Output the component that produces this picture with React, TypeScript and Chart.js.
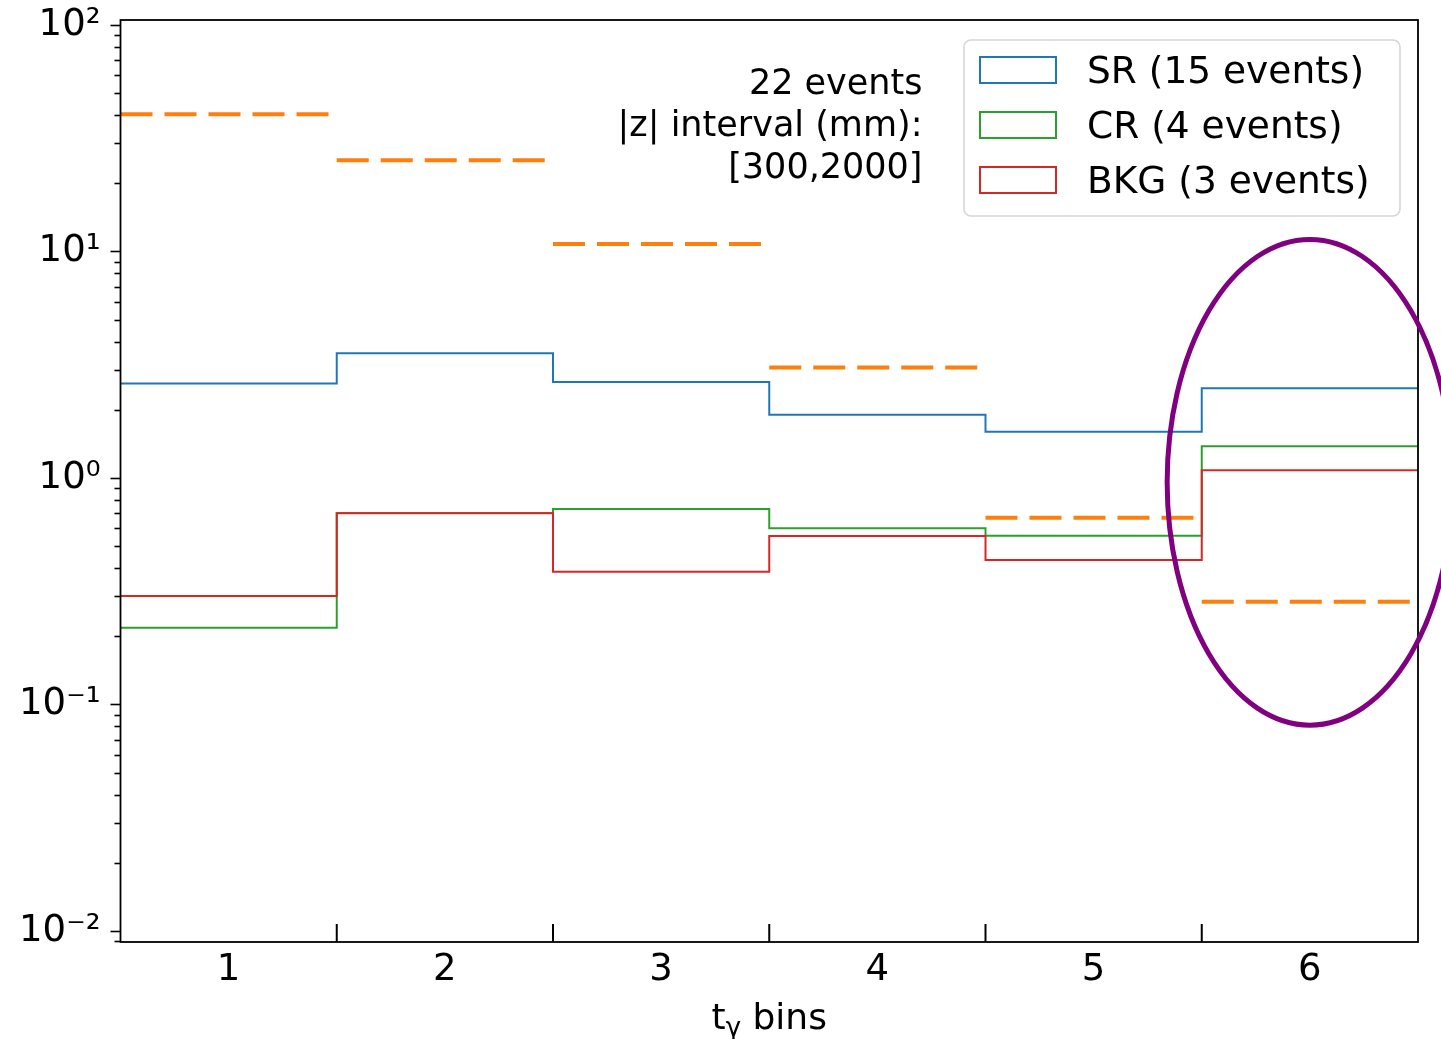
import React, { useEffect, useRef } from "react";
import { Chart, registerables } from "chart.js";

Chart.register(...registerables);

// ---- data ----
const binCenters = [1, 2, 3, 4, 5, 6];
const xTickLabels = ["1", "2", "3", "4", "5", "6"];
const srValues = [2.61, 3.55, 2.65, 1.9, 1.6, 2.49];
const crValues = [0.218, 0.7, 0.729, 0.6, 0.556, 1.38];
const bkgValues = [0.301, 0.698, 0.385, 0.554, 0.434, 1.08];
const expectedValues = [40.4, 25.3, 10.8, 3.07, 0.667, 0.284];
const seriesLabels = ["SR (15 events)", "CR (4 events)", "BKG (3 events)"];
const seriesColors = ["#1f77b4", "#2ca02c", "#d62728"];
const expectedColor = "#ff7f0e";
const annotationLines = ["22 events", "|z| interval (mm):", "[300,2000]"];
const yDecades = [-2, -1, 0, 1, 2];
const yTickLabels = ["10⁻²", "10⁻¹", "10⁰", "10¹", "10²"];
const xTitleMain = "t";
const xTitleSub = "γ";
const xTitleRest = " bins";
const yMin = Math.pow(10, -2.049);
const yMax = Math.pow(10, 2.022);
const ellipseBin = 6;
const ellipseHalfWidth = 0.66;
const ellipseTop = 11.3;
const ellipseBottom = 0.081;

const FONT = "'DejaVu Sans', sans-serif";

function stepPoints(vals: number[]) {
  const pts = vals.map((v, i) => ({ x: binCenters[i] - 0.5, y: v }));
  const last = vals.length - 1;
  pts.push({ x: binCenters[last] + 0.5, y: vals[last] });
  return pts;
}

function segmentPoints(vals: number[]) {
  const pts: { x: number; y: number | null }[] = [];
  vals.forEach((v, i) => {
    pts.push({ x: binCenters[i] - 0.5, y: v });
    pts.push({ x: binCenters[i] + 0.5, y: v });
    pts.push({ x: binCenters[i] + 0.5, y: null });
  });
  return pts;
}

const decorPlugin = {
  id: "decor",
  afterDraw(chart: any) {
    const ctx = chart.ctx;
    const area = chart.chartArea;
    const xs = chart.scales.x;
    const ys = chart.scales.y;
    ctx.save();

    // y tick marks (major + minor), outward
    ctx.strokeStyle = "#000";
    ctx.lineWidth = 1.6;
    for (let d = -3; d <= 2; d++) {
      for (let m = 1; m <= 9; m++) {
        const v = m * Math.pow(10, d);
        if (v < yMin || v > yMax) continue;
        const py = Math.round(ys.getPixelForValue(v)) + 0.5;
        const len = m === 1 ? 10 : 6;
        ctx.beginPath();
        ctx.moveTo(area.left - len, py);
        ctx.lineTo(area.left, py);
        ctx.stroke();
      }
    }

    // x bin-edge ticks, inward
    ctx.lineWidth = 2;
    for (let i = 0; i < binCenters.length - 1; i++) {
      const px = xs.getPixelForValue(binCenters[i] + 0.5);
      ctx.beginPath();
      ctx.moveTo(px, area.bottom);
      ctx.lineTo(px, area.bottom - 18);
      ctx.stroke();
    }

    // frame
    ctx.lineWidth = 1.8;
    ctx.strokeStyle = "#000";
    ctx.strokeRect(area.left, area.top, area.right - area.left, area.bottom - area.top);

    // x-axis title with subscript
    ctx.fillStyle = "#000";
    ctx.textBaseline = "alphabetic";
    ctx.textAlign = "left";
    ctx.font = `36px ${FONT}`;
    const wMain = ctx.measureText(xTitleMain).width;
    const wRest = ctx.measureText(xTitleRest).width;
    ctx.font = `26px ${FONT}`;
    const wSub = ctx.measureText(xTitleSub).width;
    const total = wMain + wSub + wRest;
    const midX = (area.left + area.right) / 2;
    const baseY = area.bottom + 87;
    let tx = midX - total / 2;
    ctx.font = `36px ${FONT}`;
    ctx.fillText(xTitleMain, tx, baseY);
    tx += wMain;
    ctx.font = `26px ${FONT}`;
    ctx.fillText(xTitleSub, tx, baseY + 7);
    tx += wSub;
    ctx.font = `36px ${FONT}`;
    ctx.fillText(xTitleRest, tx, baseY);

    // annotation text
    ctx.font = `35px ${FONT}`;
    ctx.textAlign = "right";
    ctx.textBaseline = "middle";
    const ax = area.left + 802;
    annotationLines.forEach((t, i) => {
      ctx.fillText(t, ax, area.top + 65 + i * 42);
    });

    // legend
    const lx = area.right - 454;
    const ly = area.top + 20;
    const lw = 436;
    const lh = 176;
    ctx.beginPath();
    ctx.roundRect(lx, ly, lw, lh, 7);
    ctx.fillStyle = "rgba(255,255,255,0.8)";
    ctx.fill();
    ctx.strokeStyle = "#d6d6d6";
    ctx.lineWidth = 1.6;
    ctx.stroke();
    seriesLabels.forEach((lab, i) => {
      const cy = ly + 30 + i * 55;
      ctx.strokeStyle = seriesColors[i];
      ctx.lineWidth = 2;
      ctx.strokeRect(lx + 16, cy - 13, 76, 26);
      ctx.fillStyle = "#000";
      ctx.font = `37.5px ${FONT}`;
      ctx.textAlign = "left";
      ctx.textBaseline = "middle";
      ctx.fillText(lab, lx + 123, cy + 3);
    });

    // purple ellipse highlighting the last bin
    const cx = xs.getPixelForValue(ellipseBin);
    const rx = xs.getPixelForValue(ellipseBin + ellipseHalfWidth) - cx;
    const yt = ys.getPixelForValue(ellipseTop);
    const yb = ys.getPixelForValue(ellipseBottom);
    ctx.beginPath();
    ctx.ellipse(cx, (yt + yb) / 2, rx, (yb - yt) / 2, 0, 0, Math.PI * 2);
    ctx.strokeStyle = "#800080";
    ctx.lineWidth = 5;
    ctx.stroke();

    ctx.restore();
  },
};

export default function App() {
  const ref = useRef<HTMLCanvasElement | null>(null);
  useEffect(() => {
    if (!ref.current) return;
    const mk = (label: string, data: any, color: string, order: number, extra: any = {}) => ({
      label,
      data,
      borderColor: color,
      backgroundColor: color,
      borderWidth: 2,
      pointRadius: 0,
      fill: false,
      tension: 0,
      order,
      ...extra,
    });
    const chart = new Chart(ref.current, {
      type: "line",
      data: {
        datasets: [
          mk("expected", segmentPoints(expectedValues), expectedColor, 0, {
            borderWidth: 4,
            borderDash: [32, 12],
            borderCapStyle: "butt",
            spanGaps: false,
          }),
          mk(seriesLabels[2], stepPoints(bkgValues), seriesColors[2], 1, { stepped: "before" }),
          mk(seriesLabels[1], stepPoints(crValues), seriesColors[1], 2, { stepped: "before" }),
          mk(seriesLabels[0], stepPoints(srValues), seriesColors[0], 3, { stepped: "before" }),
        ],
      },
      options: {
        animation: false,
        responsive: false,
        devicePixelRatio: 1,
        layout: { padding: { left: 0, top: 20, right: 23, bottom: 0 } },
        plugins: { legend: { display: false }, tooltip: { enabled: false } },
        scales: {
          x: {
            type: "linear",
            min: 0.5,
            max: 6.5,
            grid: { display: false, drawTicks: false },
            border: { display: false },
            afterBuildTicks: (s: any) => {
              s.ticks = binCenters.map((v) => ({ value: v }));
            },
            afterFit: (s: any) => {
              s.height = 97;
              s.paddingLeft = 0;
              s.paddingRight = 0;
            },
            ticks: {
              autoSkip: false,
              maxRotation: 0,
              padding: 6,
              color: "#000",
              font: { family: FONT, size: 37 },
              callback: (_v: any, i: number) => xTickLabels[i],
            },
          },
          y: {
            type: "logarithmic",
            min: yMin,
            max: yMax,
            grid: { display: false, drawTicks: false },
            border: { display: false },
            afterBuildTicks: (s: any) => {
              s.ticks = yDecades.map((d) => ({ value: Math.pow(10, d) }));
            },
            afterFit: (s: any) => {
              s.width = 120.5;
              s.paddingTop = 0;
              s.paddingBottom = 0;
            },
            ticks: {
              autoSkip: false,
              padding: 20,
              color: "#000",
              font: { family: FONT, size: 37 },
              callback: (_v: any, i: number) => yTickLabels[i],
            },
          },
        },
      },
      plugins: [decorPlugin],
    });
    return () => chart.destroy();
  }, []);
  return (
    <div style={{ position: "absolute", left: 0, top: 0, width: 1441, height: 1039, background: "#fff" }}>
      <canvas ref={ref} width={1441} height={1039} style={{ width: 1441, height: 1039 }} />
    </div>
  );
}
